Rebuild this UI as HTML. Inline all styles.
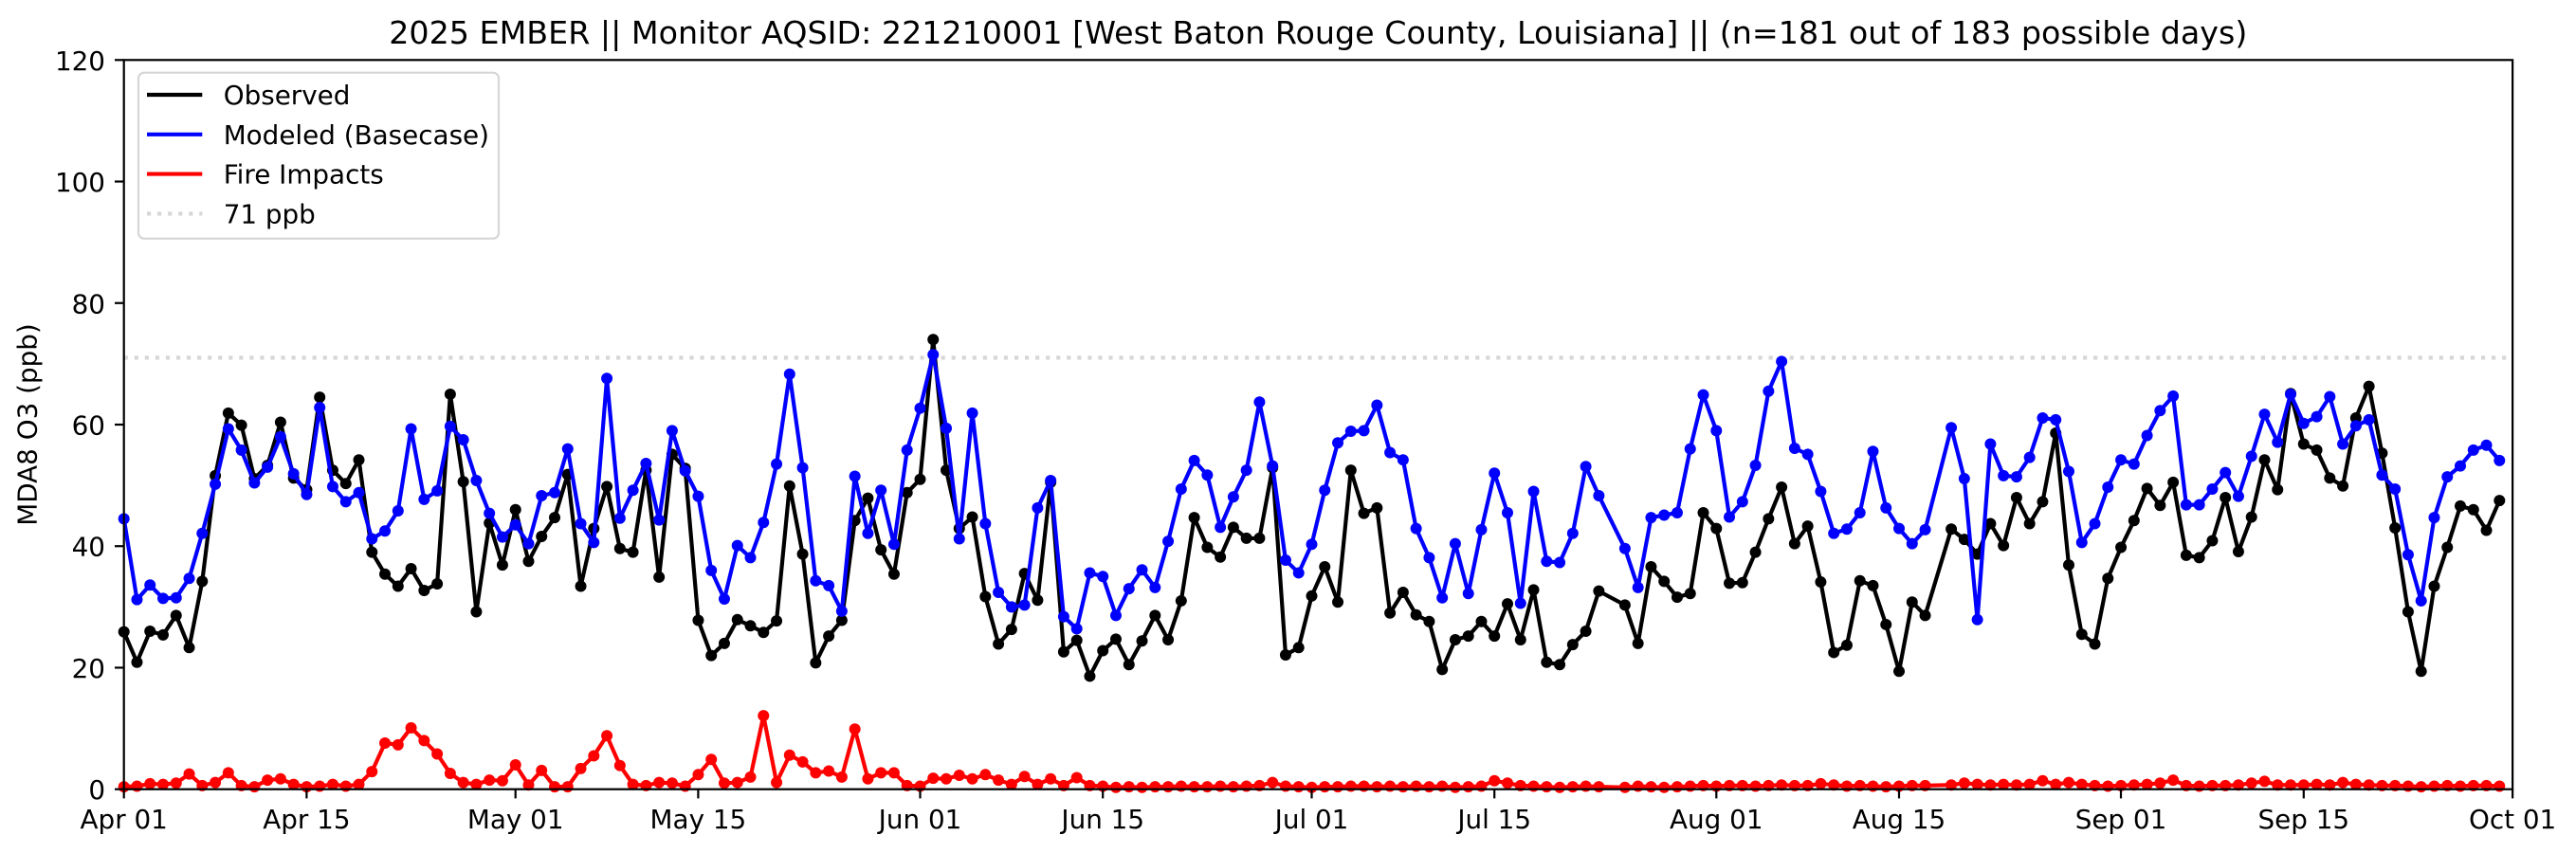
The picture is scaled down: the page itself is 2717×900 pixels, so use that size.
<!DOCTYPE html>
<html><head><meta charset="utf-8">
<style>
html,body{margin:0;padding:0;background:#fff;overflow:hidden;}
svg{display:block;}
text{font-family:"DejaVu Sans","Liberation Sans",sans-serif;fill:#000;}
</style></head>
<body>
<svg id="c" width="2717" height="900" viewBox="0 0 2717 900" xmlns="http://www.w3.org/2000/svg">
<rect width="2717" height="900" fill="#fff"/>
<text x="1390.3" y="46" font-size="33.3" text-anchor="middle">2025 EMBER || Monitor AQSID: 221210001 [West Baton Rouge County, Louisiana] || (n=181 out of 183 possible days)</text>
<text transform="translate(38.5,448) rotate(-90)" font-size="27.8" text-anchor="middle">MDA8 O3 (ppb)</text>
<line x1="130.7" y1="377.47" x2="2650.1" y2="377.47" stroke="#d6d6d6" stroke-width="4.17" stroke-dasharray="4.17 6.88"/>
<g id="data"></g>
<rect x="130.7" y="63.3" width="2519.4" height="769.4" fill="none" stroke="#000" stroke-width="2.2"/>
<g stroke="#000" stroke-width="2.2">
<line x1="121" y1="832.7" x2="130.7" y2="832.7"/>
<line x1="121" y1="704.47" x2="130.7" y2="704.47"/>
<line x1="121" y1="576.23" x2="130.7" y2="576.23"/>
<line x1="121" y1="448" x2="130.7" y2="448"/>
<line x1="121" y1="319.76" x2="130.7" y2="319.76"/>
<line x1="121" y1="191.53" x2="130.7" y2="191.53"/>
<line x1="121" y1="63.3" x2="130.7" y2="63.3"/>
<line x1="130.7" y1="832.7" x2="130.7" y2="842.4"/>
<line x1="323.4" y1="832.7" x2="323.4" y2="842.4"/>
<line x1="543.7" y1="832.7" x2="543.7" y2="842.4"/>
<line x1="736.4" y1="832.7" x2="736.4" y2="842.4"/>
<line x1="970.5" y1="832.7" x2="970.5" y2="842.4"/>
<line x1="1163.2" y1="832.7" x2="1163.2" y2="842.4"/>
<line x1="1383.5" y1="832.7" x2="1383.5" y2="842.4"/>
<line x1="1576.2" y1="832.7" x2="1576.2" y2="842.4"/>
<line x1="1810.3" y1="832.7" x2="1810.3" y2="842.4"/>
<line x1="2003.0" y1="832.7" x2="2003.0" y2="842.4"/>
<line x1="2237.0" y1="832.7" x2="2237.0" y2="842.4"/>
<line x1="2429.8" y1="832.7" x2="2429.8" y2="842.4"/>
<line x1="2650.1" y1="832.7" x2="2650.1" y2="842.4"/>
</g>
<g font-size="27.8" text-anchor="end">
<text x="111" y="843.2">0</text>
<text x="111" y="715">20</text>
<text x="111" y="586.7">40</text>
<text x="111" y="458.5">60</text>
<text x="111" y="330.3">80</text>
<text x="111" y="202">100</text>
<text x="111" y="73.8">120</text>
</g>
<g font-size="27.8" text-anchor="middle">
<text x="130.7" y="874">Apr 01</text>
<text x="323.4" y="874">Apr 15</text>
<text x="543.7" y="874">May 01</text>
<text x="736.4" y="874">May 15</text>
<text x="970.5" y="874">Jun 01</text>
<text x="1163.2" y="874">Jun 15</text>
<text x="1383.5" y="874">Jul 01</text>
<text x="1576.2" y="874">Jul 15</text>
<text x="1810.3" y="874">Aug 01</text>
<text x="2003.0" y="874">Aug 15</text>
<text x="2237.0" y="874">Sep 01</text>
<text x="2429.8" y="874">Sep 15</text>
<text x="2650.1" y="874">Oct 01</text>
</g>
<rect x="146" y="76.7" width="380" height="175" rx="6" ry="6" fill="#fff" fill-opacity="0.8" stroke="#d6d6d6" stroke-width="2.2"/>
<line x1="155" y1="100" x2="213.3" y2="100" stroke="#000" stroke-width="4.17"/>
<line x1="155" y1="141.8" x2="213.3" y2="141.8" stroke="#0000ff" stroke-width="4.17"/>
<line x1="155" y1="183.6" x2="213.3" y2="183.6" stroke="#ff0000" stroke-width="4.17"/>
<line x1="155" y1="225.4" x2="213.3" y2="225.4" stroke="#d6d6d6" stroke-width="4.17" stroke-dasharray="4.17 6.88"/>
<g font-size="27.8">
<text x="235.7" y="110">Observed</text>
<text x="235.7" y="151.8">Modeled (Basecase)</text>
<text x="235.7" y="193.6">Fire Impacts</text>
<text x="235.7" y="235.4">71 ppb</text>
</g>
</svg>
<script>
(function(){
var N=null;
var obs=[25.9,20.9,26.0,25.4,28.6,23.3,34.2,51.6,61.9,59.9,
51.1,53.3,60.4,51.2,49.3,64.5,52.5,50.3,54.2,39.0,
35.4,33.4,36.3,32.7,33.8,65.0,50.6,29.2,43.8,36.9,
46.0,37.5,41.6,44.7,51.8,33.4,42.9,49.8,39.6,39.0,
52.5,34.9,55.1,52.8,27.8,22.0,24.0,27.9,26.9,25.8,
27.7,49.9,38.7,20.8,25.2,27.8,44.2,47.9,39.4,35.4,
48.8,51.0,74.0,52.5,42.9,44.8,31.7,23.9,26.3,35.5,
31.1,50.5,22.6,24.5,18.6,22.8,24.7,20.5,24.4,28.6,
24.6,31.0,44.7,39.8,38.2,43.1,41.3,41.3,52.9,22.1,
23.3,31.8,36.6,30.8,52.5,45.4,46.3,29.0,32.4,28.7,
27.6,19.7,24.6,25.2,27.6,25.2,30.5,24.6,32.8,20.9,
20.5,23.8,26.0,32.6,N,30.3,24.0,36.6,34.2,31.6,
32.2,45.5,42.9,33.9,34.0,39.0,44.5,49.7,40.4,43.3,
34.1,22.5,23.7,34.3,33.5,27.1,19.4,30.8,28.6,N,
42.8,41.1,38.7,43.7,40.1,48.0,43.7,47.3,58.6,36.9,
25.5,23.9,34.7,39.8,44.2,49.5,46.7,50.5,38.5,38.1,
40.9,48.0,39.1,44.8,54.2,49.3,65.1,56.8,55.8,51.2,
49.9,61.1,66.3,55.3,43.0,29.2,19.4,33.4,39.8,46.6,
46.0,42.6,47.5];
var mod=[44.5,31.2,33.6,31.4,31.5,34.7,42.1,50.2,59.3,55.8,
50.4,53.0,58.0,51.9,48.5,62.8,49.8,47.3,48.8,41.2,
42.5,45.8,59.3,47.7,49.1,59.7,57.5,50.8,45.4,41.5,
43.5,40.4,48.3,48.8,56.0,43.7,40.6,67.6,44.6,49.2,
53.6,44.3,59.0,52.4,48.2,36.0,31.3,40.1,38.1,43.9,
53.5,68.3,52.9,34.3,33.5,29.3,51.5,42.1,49.2,40.3,
55.8,62.7,71.5,59.4,41.2,61.9,43.7,32.4,30.0,30.3,
46.3,50.8,28.4,26.4,35.6,35.0,28.6,33.0,36.1,33.2,
40.8,49.4,54.1,51.7,43.1,48.1,52.5,63.7,53.2,37.7,
35.6,40.3,49.2,57.0,58.9,59.0,63.2,55.4,54.2,42.9,
38.1,31.5,40.4,32.2,42.7,52.0,45.5,30.6,49.0,37.5,
37.3,42.1,53.1,48.3,N,39.6,33.2,44.7,45.1,45.5,
56.0,64.9,59.0,44.8,47.3,53.3,65.5,70.4,56.1,55.1,
49.0,42.1,42.8,45.5,55.6,46.3,42.9,40.4,42.7,N,
59.5,51.1,27.9,56.8,51.6,51.4,54.6,61.1,60.8,52.3,
40.6,43.7,49.7,54.2,53.5,58.2,62.3,64.7,46.8,46.8,
49.4,52.1,48.2,54.8,61.7,57.1,65.0,60.2,61.3,64.6,
56.8,59.8,60.8,51.7,49.4,38.6,31.0,44.7,51.4,53.2,
55.8,56.6,54.1];
var fire=[].concat(
[0.4,0.5,0.9,0.8,1.0,2.5,0.6,1.1,2.7,0.6,0.4,1.5,1.7,0.8,0.4,0.5,0.8,0.5,0.8,2.9,7.6,7.3,10.1,8.0,5.8,2.6,1.1,0.8,1.5,1.4,4.0,0.7],
[3.1,0.4,0.4,3.4,5.5,8.8,3.9,0.8,0.6,1.1,1.0,0.5,2.4,4.9,1.0,1.1,2.0,12.1,1.1,5.6,4.5,2.7,3.0,2.0,9.9,1.7,2.7,2.7,0.6,0.5],
[1.8,1.7,2.3,1.7,2.4,1.5,0.8,2.1,0.8,1.7,0.6,1.9,0.6,0.5],
[0.3,0.4,0.3,0.4,0.4,0.5,0.4,0.4,0.5,0.4,0.5,0.6,1.1,0.5,0.4],
[0.3,0.4,0.4,0.5,0.5,0.4,0.5,0.4,0.5,0.4,0.5,0.3,0.4,0.5,1.4,1.0,0.6,0.5,0.4,0.3,0.4,0.5,0.4],
[N],
[0.3,0.5,0.4,0.3,0.4,0.5,0.6,0.5,0.6,0.6,0.5,0.6,0.7,0.6,0.6,0.9,0.7,0.5,0.6,0.5,0.4,0.5,0.6,0.6],
[N],
[0.7,1.0,0.8,0.7,0.8,0.7,0.8,1.4,0.8,1.1,0.8,0.6,0.5,0.6,0.7,0.8,1.0,1.5,0.6,0.5,0.6,0.6,0.7,1.0,1.3,0.7,0.7,0.7,0.8,0.7,1.1,0.8,0.7,0.6,0.6,0.5,0.4,0.5,0.6,0.5,0.6,0.6,0.5]
);
var X0=130.7,DX=13.767,Y0=832.7,DY=6.41167;
var NS="http://www.w3.org/2000/svg";
var g=document.getElementById("data");
function series(arr,col){
  var pts=[];
  for(var i=0;i<arr.length;i++){ if(arr[i]!==null && arr[i]!==undefined){ pts.push([X0+i*DX, Y0-arr[i]*DY]); } }
  var pl=document.createElementNS(NS,"polyline");
  pl.setAttribute("points",pts.map(function(p){return p[0].toFixed(2)+","+p[1].toFixed(2);}).join(" "));
  pl.setAttribute("fill","none");
  pl.setAttribute("stroke",col);
  pl.setAttribute("stroke-width","4.17");
  pl.setAttribute("stroke-linejoin","round");
  g.appendChild(pl);
  for(var k=0;k<pts.length;k++){
    var c=document.createElementNS(NS,"circle");
    c.setAttribute("cx",pts[k][0].toFixed(2));
    c.setAttribute("cy",pts[k][1].toFixed(2));
    c.setAttribute("r","6");
    c.setAttribute("fill",col);
    g.appendChild(c);
  }
}
series(obs,"#000000");
series(mod,"#0000ff");
series(fire,"#ff0000");
})();
</script>
</body></html>
